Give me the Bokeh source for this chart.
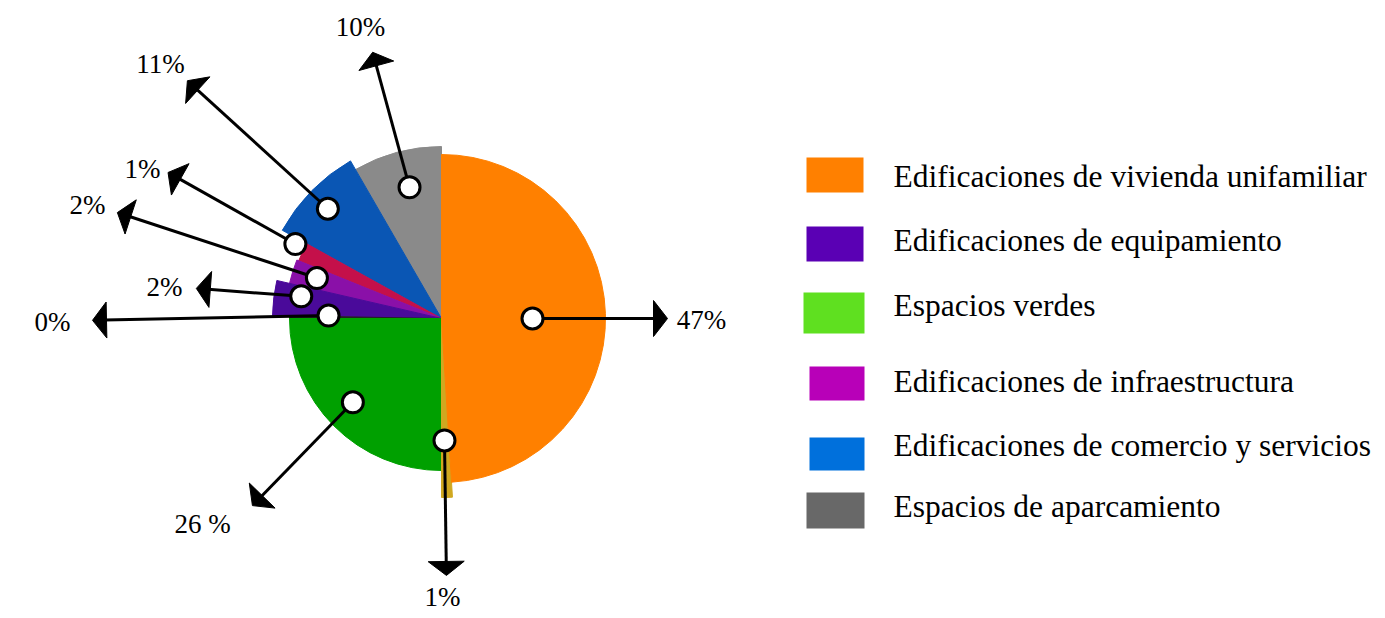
import numpy as np
from bokeh.plotting import figure
from bokeh.models import Range1d, ColumnDataSource
from bokeh.embed import file_html
from bokeh.resources import INLINE
from bokeh.core.properties import value

# ---------------- data ----------------
# slices, counter-clockwise starting at the top (12 o'clock)
slice_names = ["Espacios de aparcamiento", "Edificaciones de comercio y servicios",
               "Otros (rojo)", "Edificaciones de infraestructura",
               "Edificaciones de equipamiento", "Otros (0%)", "Espacios verdes",
               "Otros (amarillo)", "Edificaciones de vivienda unifamiliar"]
slice_labels = ["10%", "11%", "1%", "2%", "2%", "0%", "26 %", "1%", "47%"]
slice_deg = [30, 31, 7, 9, 12, 1, 90, 3.5, 176.5]   # angular size as drawn

legend_labels = ["Edificaciones de vivienda unifamiliar",
                 "Edificaciones de equipamiento",
                 "Espacios verdes",
                 "Edificaciones de infraestructura",
                 "Edificaciones de comercio y servicios",
                 "Espacios de aparcamiento"]

# ---------------- styles / layout ----------------
slice_colors = ["#8a8a8a", "#0a56b4", "#c4104a", "#8a10a8", "#4a0a9a",
                "#222222", "#00a000", "#d0a820", "#ff8000"]
slice_radius = [172, 182, 154, 156, 169, 152, 152, 179, 164]
marker_angle = [103.7, 136.0, 153.0, 162.0, 171.0, 178.5, -136.6, -88.6, 0.0]
marker_r = [135, 158, 164, 131, 142, 113, 122, 122, 91]
tip_angle = [104.5, 136.9, 151.9, 161.9, 173.0, 180.3, -135.3, -88.9, 0.0]
tip_r = [275, 348, 310, 341, 247, 349, 266, 257, 226]
label_x = [360, 160, 142, 87, 164, 52, 202, 442, 701]
label_y_px = [35, 72, 177, 213, 295, 330, 532, 605, 328]

legend_colors = ["#ff8000", "#5a00b4", "#5fe020", "#b800b8", "#0070dc", "#686868"]
legend_box_px = [(806, 863, 157, 192), (806, 863, 226, 261), (803, 864, 292, 333),
                 (809, 864, 366, 400), (809, 864, 437, 470), (806, 864, 492, 528)]
legend_base_px = [185, 249, 314, 390, 454, 515]
text_shift = 9   # renderer places the alphabetic baseline a little low

W, H = 1377, 614
TOP = 618
def Y(ypix):
    return TOP - np.asarray(ypix, dtype=float)

cx, cy = 441.0, float(Y(318))

p = figure(width=W, height=H, x_range=Range1d(0, W), y_range=Range1d(TOP - H, TOP),
           output_backend="svg", toolbar_location=None,
           x_axis_type=None, y_axis_type=None, min_border=0)
p.grid.visible = False
p.outline_line_color = None
p.background_fill_color = "white"

# wedges
deg = np.array(slice_deg, dtype=float)
starts = 90 + np.concatenate([[0], np.cumsum(deg)[:-1]])
ends = starts + deg
src = ColumnDataSource(dict(start=starts, end=ends, r=slice_radius, color=slice_colors))
p.wedge(x=cx, y=cy, radius="r", start_angle="start", end_angle="end",
        start_angle_units="deg", end_angle_units="deg",
        fill_color="color", line_color="color", line_width=1, source=src)

# markers and arrows
ma = np.radians(marker_angle)
mx = cx + np.array(marker_r) * np.cos(ma)
my = cy + np.array(marker_r) * np.sin(ma)
ta = np.radians(tip_angle)
tx = cx + np.array(tip_r) * np.cos(ta)
ty = cy + np.array(tip_r) * np.sin(ta)

dx, dy = tx - mx, ty - my
L = np.hypot(dx, dy)
ux, uy = dx / L, dy / L
head_len, head_w = 14.0, 36.0
bx, by = tx - head_len * ux, ty - head_len * uy
px_, py_ = -uy, ux
xs = [[tx[i], bx[i] + head_w / 2 * px_[i], bx[i] - head_w / 2 * px_[i]] for i in range(len(tx))]
ys = [[ty[i], by[i] + head_w / 2 * py_[i], by[i] - head_w / 2 * py_[i]] for i in range(len(ty))]

p.segment(x0=mx, y0=my, x1=bx + 2 * ux, y1=by + 2 * uy, line_color="black", line_width=3)
p.patches(xs=xs, ys=ys, fill_color="black", line_color="black", line_width=1)
p.scatter(x=mx, y=my, size=21, marker="circle", fill_color="white",
          line_color="black", line_width=3)

# percentage labels
p.text(x=label_x, y=Y(np.array(label_y_px) - text_shift), text=slice_labels,
       text_align="center", text_baseline="alphabetic",
       text_font=value("Liberation Serif"), text_font_size="27px", text_color="black")

# legend
lx0 = [b[0] for b in legend_box_px]
lx1 = [b[1] for b in legend_box_px]
ly0 = Y([b[3] for b in legend_box_px])
ly1 = Y([b[2] for b in legend_box_px])
p.quad(left=lx0, right=lx1, bottom=ly0, top=ly1, fill_color=legend_colors, line_color=None)
p.text(x=[893] * len(legend_labels), y=Y(np.array(legend_base_px) - text_shift),
       text=legend_labels, text_align="left", text_baseline="alphabetic",
       text_font=value("Liberation Serif"), text_font_size="31.5px", text_color="black")

open("out.html", "w").write(file_html(p, INLINE))
